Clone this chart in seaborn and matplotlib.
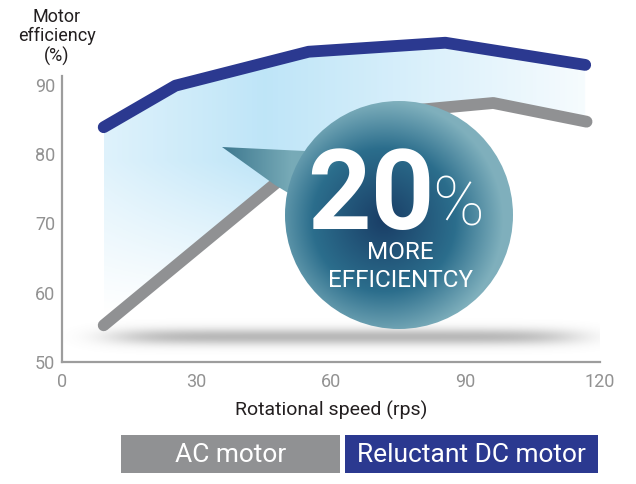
import numpy as np
import pandas as pd
import matplotlib.pyplot as plt
import seaborn as sns
from matplotlib.patches import Circle, Polygon, Rectangle

### data
ac_speed = [9.3, 66, 96.2, 117]
ac_eff = [55.3, 85.6, 87.4, 84.7]
dc_speed = [9.3, 25.3, 55, 85.5, 116.7]
dc_eff = [83.9, 89.9, 94.8, 96.1, 92.9]
series_names = ["AC motor", "Reluctant DC motor"]
series_colors = ["#909193", "#2b3990"]
y_ticks = [50, 60, 70, 80, 90]
x_ticks = [0, 30, 60, 90, 120]
x_minor = [10, 20, 40, 50, 70, 80, 100, 110]
badge_big = "20"
badge_pct = "%"
badge_lines = ["MORE", "EFFICIENTCY"]

df = pd.concat([
    pd.DataFrame({"speed": ac_speed, "eff": ac_eff, "motor": series_names[0]}),
    pd.DataFrame({"speed": dc_speed, "eff": dc_eff, "motor": series_names[1]}),
])

sns.set_style("white")
plt.rcParams["font.family"] = ["Roboto", "DejaVu Sans"]

fig = plt.figure(figsize=(6.36, 4.84), dpi=100)
ax = fig.add_axes([62 / 636, 1 - 362 / 484, 538 / 636, 325.5 / 484])
ax.set_xlim(0, 120)
ax.set_ylim(50, 97)

### shadow under the chart
sx = np.linspace(0, 120, 400)
sy = np.linspace(50, 58, 80)
SX, SY = np.meshgrid(sx, sy)
sh = np.zeros(SX.shape + (4,))
sh[..., :3] = 0.5
sh[..., 3] = 0.55 * np.exp(-((SX - 63) / 52) ** 8) * np.exp(-((SY - 53.6) / 1.2) ** 2)
ax.imshow(sh, extent=[0, 120, 50, 58], origin="lower", aspect="auto", zorder=0)

### gradient fill between the two lines
fx = np.union1d(ac_speed, dc_speed)
fx = fx[(fx >= max(ac_speed[0], dc_speed[0])) & (fx <= min(ac_speed[-1], dc_speed[-1]))]
top = np.interp(fx, dc_speed, dc_eff)
bot = np.interp(fx, ac_speed, ac_eff)
poly = ax.fill_between(fx, bot, top, color="none", lw=0)
gx = np.linspace(fx[0], fx[-1], 300)
gy = np.linspace(50, 97, 200)
GX, GY = np.meshgrid(gx, gy)
grad = np.zeros(GX.shape + (4,))
grad[..., 0] = 0.72
grad[..., 1] = 0.89
grad[..., 2] = 0.97
x_fade = np.interp(GX, [9, 45, 117], [0.45, 0.9, 0.12])
y_fade = np.clip((GY - 57) / 22, 0, 1)
grad[..., 3] = x_fade * y_fade
im = ax.imshow(grad, extent=[fx[0], fx[-1], 50, 97], origin="lower", aspect="auto", zorder=1)
im.set_clip_path(poly.get_paths()[0], transform=ax.transData)

### lines
sns.lineplot(data=df, x="speed", y="eff", hue="motor", hue_order=series_names,
             palette=series_colors, lw=8.5, legend=False, ax=ax, zorder=2,
             solid_capstyle="round", solid_joinstyle="round", clip_on=False)
ax.lines[1].set_zorder(3)

### axes styling
sns.despine(ax=ax)
for s in ["left", "bottom"]:
    ax.spines[s].set_color("#9d9d9d")
    ax.spines[s].set_linewidth(1.6)
ax.spines["left"].set_bounds(50, 91.3)
ax.set_yticks(y_ticks)
ax.set_xticks(x_ticks)
ax.set_xticks(x_minor, minor=True)
ax.tick_params(axis="both", which="both", direction="in", length=9, width=1.6,
               color="#9d9d9d", labelcolor="#929292", labelsize=13)
ax.tick_params(axis="x", which="both", pad=8)
ax.tick_params(axis="y", pad=5)
ax.set_xlabel("Rotational speed (rps)", fontsize=14, color="#231f20", labelpad=7)
ax.set_ylabel("")
fig.text(57 / 636, 1 - 37 / 484, "Motor\nefficiency\n(%)", ha="center", va="center",
         fontsize=13, color="#231f20", linespacing=1.1)

### overlay in pixel coords for the badge and legend
ov = fig.add_axes([0, 0, 1, 1], zorder=5)
ov.set_xlim(0, 636)
ov.set_ylim(484, 0)
ov.axis("off")
ov.patch.set_alpha(0)

cx, cy, r = 399, 215, 114
# tail
tail = Polygon([(222, 147), (305, 151), (300, 200), (275, 185)], closed=True,
               facecolor="none", edgecolor="none")
ov.add_patch(tail)
tx = np.linspace(215, 310, 100)
ty = np.linspace(140, 205, 60)
TX, TY = np.meshgrid(tx, ty)
tg = np.zeros(TX.shape + (4,))
t = np.clip((TX - 222) / 70, 0, 1)[..., None]
tg[..., :3] = (1 - t) * np.array([0.24, 0.47, 0.56]) + t * np.array([0.47, 0.67, 0.72])
tg[..., 3] = 1
tim = ov.imshow(tg, extent=[215, 310, 205, 140], zorder=6)
tim.set_clip_path(tail)

# circle with radial gradient
circ = Circle((cx, cy), r, facecolor="none", edgecolor="none")
ov.add_patch(circ)
bx = np.linspace(cx - r, cx + r, 300)
by = np.linspace(cy - r, cy + r, 300)
BX, BY = np.meshgrid(bx, by)
d = np.clip(np.hypot(BX - (cx - 15), BY - (cy + 5)) / (r * 1.05), 0, 1)[..., None]
c_in = np.array([0.10, 0.24, 0.40])
c_mid = np.array([0.17, 0.43, 0.55])
c_out = np.array([0.50, 0.69, 0.74])
cg = np.zeros(BX.shape + (4,))
k1 = np.clip(d / 0.6, 0, 1)
k2 = np.clip((d - 0.6) / 0.4, 0, 1)
cg[..., :3] = np.where(d < 0.6, (1 - k1) * c_in + k1 * c_mid, (1 - k2) * c_mid + k2 * c_out)
cg[..., 3] = 1
cim = ov.imshow(cg, extent=[cx - r, cx + r, cy + r, cy - r], zorder=7)
cim.set_clip_path(circ)

ov.text(371, 229, badge_big, color="white", fontsize=80, fontweight="bold",
        ha="center", va="baseline", zorder=8)
ov.text(458, 226, badge_pct, color="white", fontsize=50, fontweight="light",
        ha="center", va="baseline", zorder=8)
ov.text(400, 259, badge_lines[0], color="white", fontsize=17.5, ha="center",
        va="baseline", zorder=8)
ov.text(400, 287, badge_lines[1], color="white", fontsize=17.5, ha="center",
        va="baseline", zorder=8)

# legend boxes
boxes = [(121, 340), (345, 598)]
for (x0, x1), name, col in zip(boxes, series_names, series_colors):
    ov.add_patch(Rectangle((x0, 435), x1 - x0, 38, facecolor=col, edgecolor="none"))
    ov.text((x0 + x1) / 2, 455, name, color="white", fontsize=19, ha="center",
            va="center")

plt.savefig("out.png", dpi=100)
